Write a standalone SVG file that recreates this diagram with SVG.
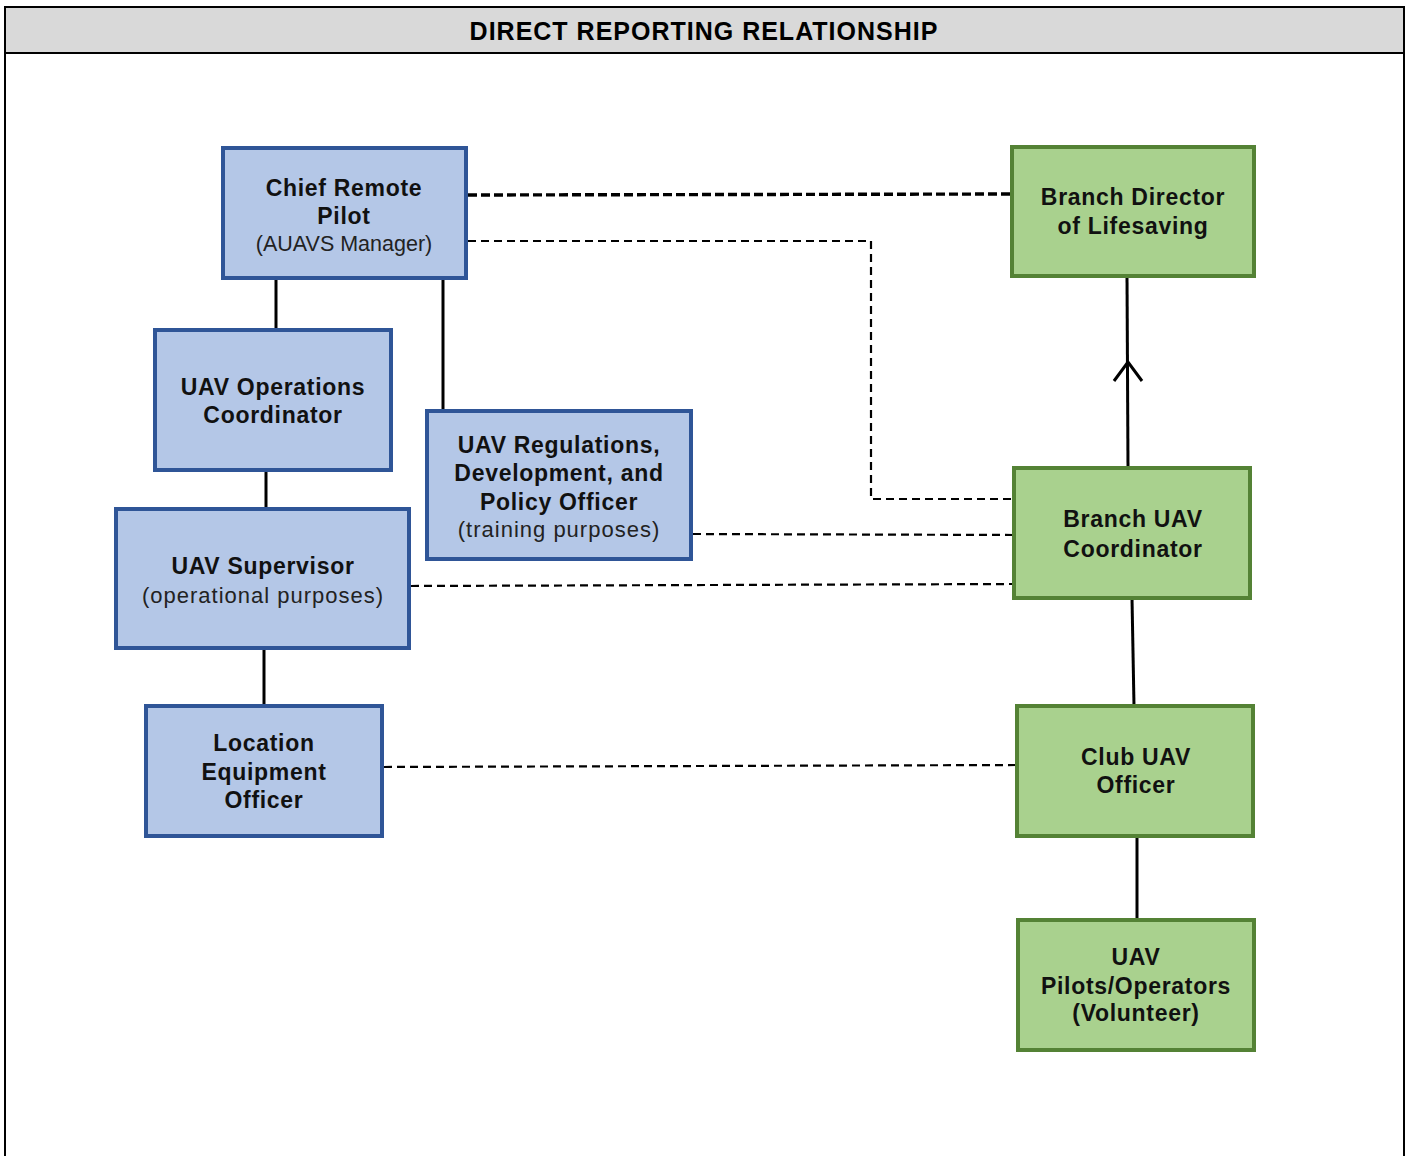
<svg xmlns="http://www.w3.org/2000/svg" width="1408" height="1156" viewBox="0 0 1408 1156">
<style>
.blue{fill:#b4c7e7;stroke:#2f5597;stroke-width:4}
.green{fill:#a9d18e;stroke:#548235;stroke-width:4}
.b{font-family:"Liberation Sans",Arial,sans-serif;font-weight:bold;font-size:23px;letter-spacing:0.7px;fill:#111;text-anchor:middle}
.r{font-family:"Liberation Sans",Arial,sans-serif;font-size:22px;letter-spacing:1px;fill:#222;text-anchor:middle}
.solid{stroke:#000;stroke-width:3;fill:none}
.dash{stroke:#000;stroke-width:2.2;fill:none;stroke-dasharray:8 5}
.dashT{stroke:#000;stroke-width:3.4;fill:none;stroke-dasharray:9 4}
</style>
<rect x="0" y="0" width="1408" height="1156" fill="#fff"/>
<g id="frame">
<rect x="5" y="7" width="1399" height="46" fill="#d9d9d9" stroke="#000" stroke-width="2"/>
<line x1="5" y1="53" x2="5" y2="1156" stroke="#000" stroke-width="2"/>
<line x1="1404" y1="53" x2="1404" y2="1156" stroke="#000" stroke-width="2"/>
<text x="704" y="40" font-family="Liberation Sans,Arial,sans-serif" font-weight="bold" font-size="25" letter-spacing="1" text-anchor="middle" fill="#000">DIRECT REPORTING RELATIONSHIP</text>
</g>
<g id="connectors">
<line class="solid" x1="276" y1="278" x2="276" y2="330"/>
<line class="solid" x1="443" y1="278" x2="443" y2="411"/>
<line class="solid" x1="266" y1="470" x2="266" y2="509"/>
<line class="solid" x1="264" y1="648" x2="264" y2="706"/>
<line class="solid" x1="1128" y1="468" x2="1127" y2="276"/>
<polyline class="solid" points="1114,381 1128,362 1142,381"/>
<line class="solid" x1="1132" y1="598" x2="1134" y2="706"/>
<line class="solid" x1="1137" y1="836" x2="1137" y2="920"/>
<line class="dashT" x1="468" y1="195" x2="1012" y2="194"/>
<polyline class="dash" points="468,241 871,241 871,499 1014,499"/>
<line class="dash" x1="693" y1="534" x2="1014" y2="535"/>
<line class="dash" x1="411" y1="586" x2="1014" y2="584"/>
<line class="dash" x1="384" y1="767" x2="1017" y2="765"/>
</g>
<g id="chief-remote-pilot">
<rect class="blue" x="223" y="148" width="243" height="130"/>
<text class="b" x="344" y="196">Chief Remote</text>
<text class="b" x="344" y="224">Pilot</text>
<text class="r" x="344" y="251" style="letter-spacing:0;font-size:21.5px">(AUAVS Manager)</text>
</g>
<g id="branch-director">
<rect class="green" x="1012" y="147" width="242" height="129"/>
<text class="b" x="1133" y="205">Branch Director</text>
<text class="b" x="1133" y="234">of Lifesaving</text>
</g>
<g id="uav-operations-coordinator">
<rect class="blue" x="155" y="330" width="236" height="140"/>
<text class="b" x="273" y="395">UAV Operations</text>
<text class="b" x="273" y="423">Coordinator</text>
</g>
<g id="uav-regulations-officer">
<rect class="blue" x="427" y="411" width="264" height="148"/>
<text class="b" x="559" y="453">UAV Regulations,</text>
<text class="b" x="559" y="481">Development, and</text>
<text class="b" x="559" y="510">Policy Officer</text>
<text class="r" x="559" y="537">(training purposes)</text>
</g>
<g id="uav-supervisor">
<rect class="blue" x="116" y="509" width="293" height="139"/>
<text class="b" x="263" y="574">UAV Supervisor</text>
<text class="r" x="263" y="603">(operational purposes)</text>
</g>
<g id="branch-uav-coordinator">
<rect class="green" x="1014" y="468" width="236" height="130"/>
<text class="b" x="1133" y="527">Branch UAV</text>
<text class="b" x="1133" y="557">Coordinator</text>
</g>
<g id="location-equipment-officer">
<rect class="blue" x="146" y="706" width="236" height="130"/>
<text class="b" x="264" y="751">Location</text>
<text class="b" x="264" y="780">Equipment</text>
<text class="b" x="264" y="808">Officer</text>
</g>
<g id="club-uav-officer">
<rect class="green" x="1017" y="706" width="236" height="130"/>
<text class="b" x="1136" y="765">Club UAV</text>
<text class="b" x="1136" y="793">Officer</text>
</g>
<g id="uav-pilots-operators">
<rect class="green" x="1018" y="920" width="236" height="130"/>
<text class="b" x="1136" y="965">UAV</text>
<text class="b" x="1136" y="994">Pilots/Operators</text>
<text class="b" x="1136" y="1021">(Volunteer)</text>
</g>
</svg>
